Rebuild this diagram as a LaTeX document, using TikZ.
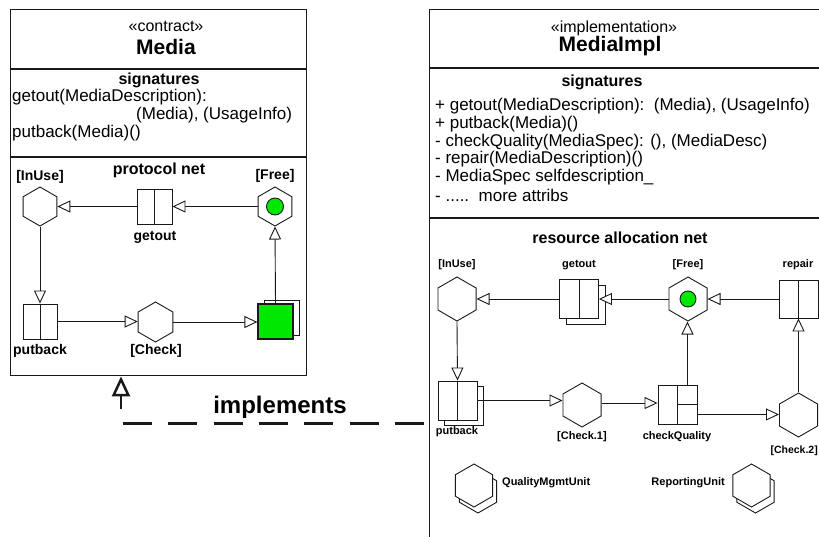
\documentclass[tikz,border=0pt]{standalone}
\usepackage{fontspec}
\setmainfont{Liberation Sans}
\usetikzlibrary{shapes.geometric,arrows.meta,calc}
\definecolor{token}{RGB}{0,232,0}
\definecolor{ink}{RGB}{25,25,25}
\tikzset{
  boxline/.style={draw=ink, line width=1.4pt},
  arc/.style={draw=ink, line width=0.9pt,
    -{Triangle[length=13pt,width=12pt,fill=white,line width=0.9pt]}},
  hexnode/.style={regular polygon, regular polygon sides=6, shape border rotate=90,
    draw=ink, line width=0.9pt, fill=white, inner sep=0pt, minimum size=#1},
  trans/.style={rectangle, draw=ink, line width=0.9pt, fill=white, inner sep=0pt,
    path picture={\draw[ink, line width=0.9pt] (path picture bounding box.north) -- (path picture bounding box.south);}},
  plainbox/.style={rectangle, draw=ink, line width=0.9pt, fill=white, inner sep=0pt},
  tokennode/.style={circle, draw=ink, line width=0.9pt, fill=token, inner sep=0pt, minimum size=#1},
  lblL/.style={font=\bfseries\fontsize{14}{16}\selectfont, inner sep=0pt},
  lblR/.style={font=\bfseries\fontsize{11}{13}\selectfont, inner sep=0pt},
  sig/.style={font=\fontsize{17}{18}\selectfont, anchor=west, inner sep=0pt},
  stereo/.style={font=\fontsize{16}{18}\selectfont, inner sep=0pt},
  classname/.style={font=\bfseries\fontsize{21}{24}\selectfont, inner sep=0pt},
  section/.style={font=\bfseries\fontsize{16}{18}\selectfont, inner sep=0pt},
}
\begin{document}
\begin{tikzpicture}[x=1pt, y=-1pt]
\clip (0,0) rectangle (819,536);
\fill[white] (0,0) rectangle (819,536);

% ---------- contract class: Media ----------
\node[boxline, anchor=north west, minimum width=296pt, minimum height=366pt, inner sep=0pt] (media) at (10,9) {};
\draw[boxline] (media.west |- 0,69) -- (media.east |- 0,69);
\draw[boxline] (media.west |- 0,157) -- (media.east |- 0,157);
\node[stereo] (mediaSt) at (166,26) {«contract»};
\node[classname] (mediaName) at (166,47) {Media};
\node[section] (mediaSig) at (159,80) {signatures};
\node[sig] (mSig1) at (12,97) {getout(MediaDescription):};
\node[sig] (mSig2) at (136,115) {(Media), (UsageInfo)};
\node[sig] (mSig3) at (12,133) {putback(Media)()};
\node[section] (protoTitle) at (159,170) {protocol net};

% protocol net
\node[hexnode=39pt] (inuseL) at (40,206.5) {};
\node[trans, minimum width=35pt, minimum height=35pt] (getoutL) at (154.5,206.5) {};
\node[hexnode=39pt] (freeL) at (275,206.5) {};
\node[tokennode=17pt] (freeTokL) at (freeL) {};
\node[trans, minimum width=34pt, minimum height=35pt] (putbackL) at (40,321.5) {};
\node[hexnode=40pt] (checkL) at (155.5,322) {};
\node[plainbox, minimum size=35pt] (greenShadowL) at (281.5,318) {};
\node[plainbox, fill=token, line width=1.2pt, minimum size=35pt] (greenL) at (275.5,321.5) {};

\node[lblL] at (40,177) {[InUse]};
\node[lblL] at (155,237) {getout};
\node[lblL] at (275,176) {[Free]};
\node[lblL] at (40,351) {putback};
\node[lblL] at (156,351) {[Check]};

\draw[arc] (freeL.west) -- (getoutL.east);
\draw[arc] (getoutL.west) -- (inuseL.east);
\draw[arc] (inuseL.south) -- (putbackL.north);
\draw[arc] (putbackL.east) -- (putbackL.east -| checkL.west);
\draw[arc] (checkL.east) -- (checkL.east -| greenL.west);
\draw[arc] (greenL.north) -- (freeL.south);

% ---------- implementation class: MediaImpl ----------
\node[boxline, anchor=north west, minimum width=420pt, minimum height=560pt, inner sep=0pt] (mimpl) at (429,9) {};
\draw[boxline] (mimpl.west |- 0,68) -- (mimpl.east |- 0,68);
\draw[boxline] (mimpl.west |- 0,218) -- (mimpl.east |- 0,218);
\node[stereo] (implSt) at (614,28) {«implementation»};
\node[classname] (implName) at (610,46) {MediaImpl};
\node[section] (implSig) at (602,82) {signatures};
\node[sig] (iSig1) at (435,106) {+ getout(MediaDescription):\ \ (Media), (UsageInfo)};
\node[sig] (iSig2) at (435,124) {+ putback(Media)()};
\node[sig] (iSig3) at (435,142) {- checkQuality(MediaSpec): (), (MediaDesc)};
\node[sig] (iSig4) at (435,159) {- repair(MediaDescription)()};
\node[sig] (iSig5) at (435,177) {- MediaSpec selfdescription\_};
\node[sig] (iSig6) at (435,195) {- .....\ \ more attribs};
\node[section] (resTitle) at (620,238) {resource allocation net};

% resource allocation net
\node[hexnode=44pt] (inuseR) at (457,299) {};
\node[plainbox, minimum width=39pt, minimum height=39pt] (getoutShadowR) at (586,305) {};
\node[trans, minimum width=39pt, minimum height=39pt] (getoutR) at (579,299) {};
\node[hexnode=44pt] (freeR) at (688,299) {};
\node[tokennode=16pt] (freeTokR) at (freeR) {};
\node[trans, minimum width=39pt, minimum height=38pt] (repairR) at (798.5,299) {};
\node[plainbox, minimum width=39pt, minimum height=39pt] (putbackShadowR) at (463.5,405.5) {};
\node[trans, minimum width=39pt, minimum height=39pt] (putbackR) at (457.5,400.5) {};
\node[hexnode=44pt] (check1R) at (582,405) {};
\node[trans, minimum width=39pt, minimum height=39pt] (cqR) at (677.5,404.5) {};
\draw[ink, line width=0.9pt] (cqR.center) -- (cqR.east);
\node[hexnode=44pt] (check2R) at (798.5,415) {};

\node[lblR] at (457,265) {[InUse]};
\node[lblR] at (579,265) {getout};
\node[lblR] at (688,265) {[Free]};
\node[lblR] at (798,265) {repair};
\node[lblR] at (457,432) {putback};
\node[lblR] at (582,437) {[Check.1]};
\node[lblR] at (677,437) {checkQuality};
\node[lblR, font=\bfseries\fontsize{10.5}{12}\selectfont, anchor=east] at (818,451) {[Check.2]};

\draw[arc] (repairR.west) -- (freeR.east);
\draw[arc] (freeR.west) -- (getoutR.east);
\draw[arc] (getoutR.west) -- (inuseR.east);
\draw[arc] (inuseR.south) -- (putbackR.north);
\draw[arc] (putbackR.east) -- (putbackR.east -| check1R.west);
\draw[arc] ($(check1R.east)+(0,-2)$) -- ($(check1R.east -| cqR.west)+(0,-2)$);
\coordinate (cqTop) at ($(cqR.north)!0.5!(cqR.north east)$);
\draw[arc] (cqTop) -- (cqTop |- freeR.south);
\coordinate (cqLow) at ($(cqR.east)!0.5!(cqR.south east)$);
\draw[arc] (cqLow) -- (cqLow -| check2R.west);
\draw[arc] (check2R.north) -- (repairR.south);

% resource units
\node[hexnode=43pt] (qmuShadow) at (478,491.5) {};
\node[hexnode=43pt] (qmu) at (474,485.5) {};
\node[lblR, anchor=west] at (502,483) {QualityMgmtUnit};
\node[hexnode=43pt] (repShadow) at (755.5,491.5) {};
\node[hexnode=43pt] (rep) at (751.5,485.5) {};
\node[lblR, anchor=east] at (725,483) {ReportingUnit};

% ---------- realization ----------
\coordinate (implFoot) at (121,409);
\draw[draw=ink, line width=2.5pt, -{Triangle[open,length=20pt,width=18pt,line width=2.5pt]}] (implFoot) -- (implFoot |- media.south);
\coordinate (dashL) at (123,423);
\draw[draw=ink, line width=3pt, dash pattern=on 29pt off 16.3pt, shorten >=4pt] (dashL) -- (dashL -| mimpl.west);
\node[font=\bfseries\fontsize{24}{26}\selectfont, inner sep=0pt] (implLbl) at (280,407) {implements};
\end{tikzpicture}
\end{document}
